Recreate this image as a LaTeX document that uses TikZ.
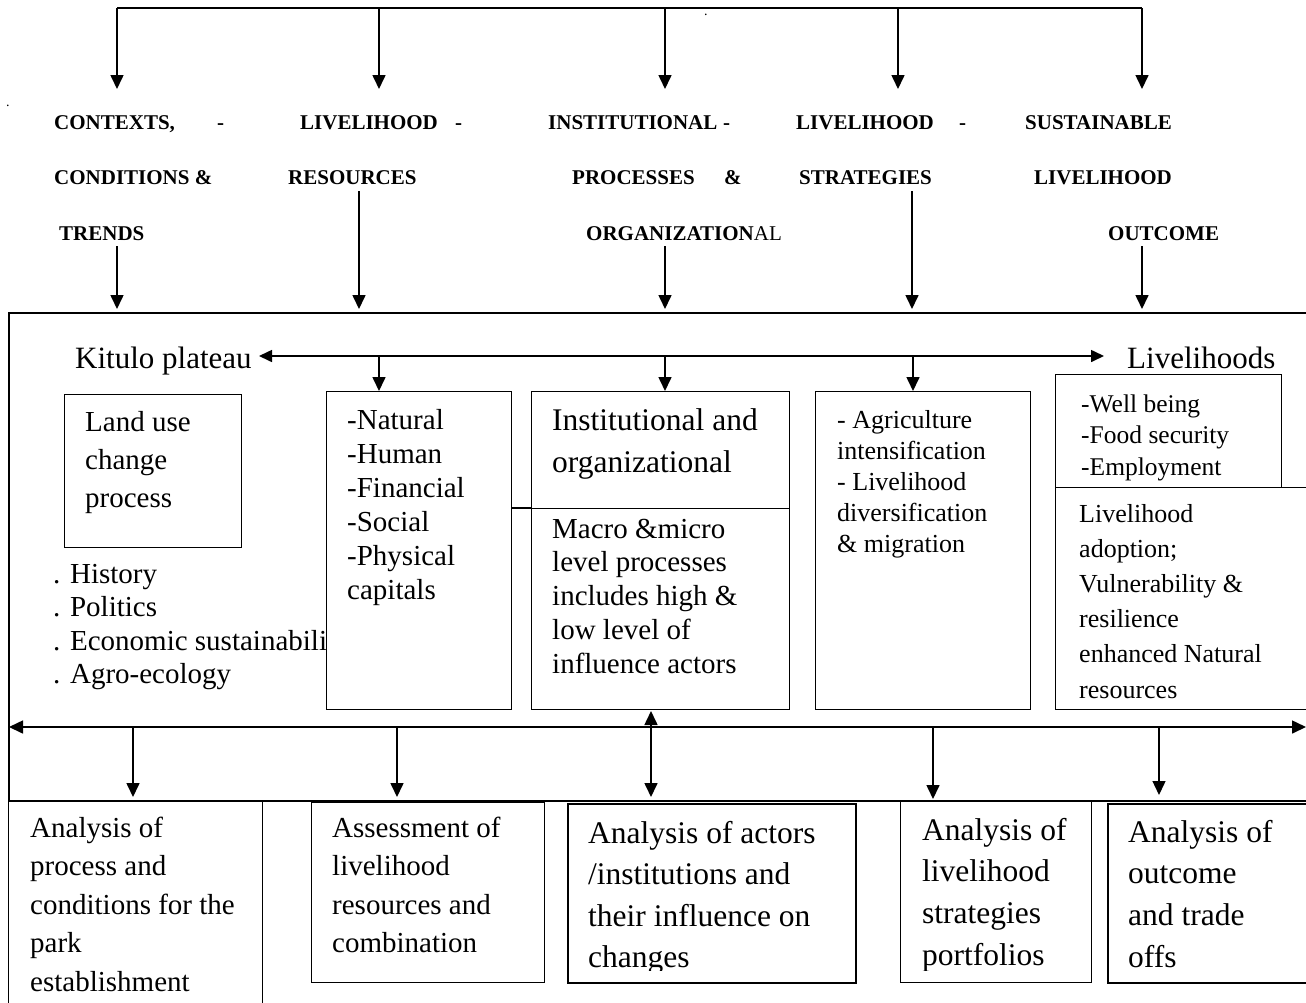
\documentclass[tikz,border=0pt]{standalone}
\usepackage{fontspec}
\setmainfont{Liberation Serif}
\usetikzlibrary{arrows.meta}
\newcommand\ml[1]{\begin{tabular}[t]{@{}l@{}}#1\end{tabular}}
\begin{document}
\begin{tikzpicture}[x=1pt,y=-1pt,
  ln/.style={line width=1.6pt},
  arr/.style={line width=1.6pt,-{Triangle[length=14pt,width=13pt]}},
  darr/.style={line width=1.6pt,{Triangle[length=14pt,width=13pt]}-{Triangle[length=14pt,width=13pt]}},
  bx/.style={draw,line width=1.3pt,inner sep=0pt,anchor=north west},
  hd/.style={font=\fontsize{21}{25}\selectfont\bfseries,anchor=base west,inner sep=0pt},
  txt/.style={anchor=base west,inner sep=0pt}]
\useasboundingbox (0,0) rectangle (1306,1002);
\fill[white] (0,0) rectangle (1306,1002);

% ---------- top distribution bar ----------
\coordinate (ta) at (117,8);  \coordinate (ha) at (117,89);
\coordinate (tb) at (379,8);  \coordinate (hb) at (379,89);
\coordinate (tc) at (665,8);  \coordinate (hc) at (665,89);
\coordinate (td) at (898,8);  \coordinate (hdd) at (898,89);
\coordinate (te) at (1142,8); \coordinate (he) at (1142,89);
\draw[ln] (ta) -- (te);
\draw[arr] (ta) -- (ha);
\draw[arr] (tb) -- (hb);
\draw[arr] (tc) -- (hc);
\draw[arr] (td) -- (hdd);
\draw[arr] (te) -- (he);
\node[txt,font=\fontsize{14}{14}\selectfont] (dot1) at (6,106) {.};
\node[txt,font=\fontsize{14}{14}\selectfont] (dot2) at (704,15) {.};

% ---------- header texts ----------
\node[hd] (h1a) at (54,129) {CONTEXTS,};
\node[hd] (h1b) at (217,129) {-};
\node[hd] (h1c) at (54,184) {CONDITIONS \&};
\node[hd] (h1d) at (59,240) {TRENDS};
\node[hd] (h2a) at (300,129) {LIVELIHOOD};
\node[hd] (h2b) at (455,129) {-};
\node[hd] (h2c) at (288,184) {RESOURCES};
\node[hd] (h3a) at (548,129) {INSTITUTIONAL};
\node[hd] (h3b) at (723,129) {-};
\node[hd] (h3c) at (572,184) {PROCESSES};
\node[hd] (h3d) at (724,184) {\&};
\node[hd] (h3e) at (586,240) {ORGANIZATION{\mdseries AL}};
\node[hd] (h4a) at (796,129) {LIVELIHOOD};
\node[hd] (h4b) at (959,129) {-};
\node[hd] (h4c) at (799,184) {STRATEGIES};
\node[hd] (h5a) at (1025,129) {SUSTAINABLE};
\node[hd] (h5b) at (1034,184) {LIVELIHOOD};
\node[hd] (h5c) at (1108,240) {OUTCOME};

% ---------- main frame ----------
\node[bx,minimum width=1310pt,minimum height=488pt,line width=1.8pt] (main) at (8,312) {};
\coordinate (sa) at (117,246);  \coordinate (ea) at (117,309);
\coordinate (sb) at (359,191);  \coordinate (eb) at (359,309);
\coordinate (sc) at (665,246);  \coordinate (ec) at (665,309);
\coordinate (sd) at (912,191);  \coordinate (ed) at (912,309);
\coordinate (se) at (1142,246); \coordinate (ee) at (1142,309);
\draw[arr] (sa) -- (ea);
\draw[arr] (sb) -- (eb);
\draw[arr] (sc) -- (ec);
\draw[arr] (sd) -- (ed);
\draw[arr] (se) -- (ee);

% ---------- inner boxes ----------
\node[bx,minimum width=177pt,minimum height=153pt] (luc) at (64,394) {};
\node[bx,minimum width=185pt,minimum height=318pt] (b2) at (326,391) {};
\node[bx,minimum width=258pt,minimum height=117pt] (b3t) at (531,391) {};
\node[bx,minimum width=258pt,minimum height=201pt] (b3b) at (531,508) {};
\node[bx,minimum width=215pt,minimum height=318pt] (b4) at (815,391) {};
\node[bx,minimum width=226pt,minimum height=113pt] (b5t) at (1055,374) {};
\node[bx,minimum width=262pt,minimum height=222pt] (b5b) at (1055,487) {};
\draw[line width=1.3pt] (b2.east |- b3b.north) -- (b3b.north west);

% ---------- Kitulo plateau line ----------
\node[txt,font=\fontsize{31}{36}\selectfont] (kit) at (75,368) {Kitulo plateau};
\node[txt,font=\fontsize{31}{36}\selectfont] (liv) at (1127,368) {Livelihoods};
\coordinate (kL) at (259,356);
\coordinate (kR) at (1104,356);
\draw[line width=1.6pt,{Triangle[length=13pt,width=12pt]}-{Triangle[length=13pt,width=12pt]}] (kL) -- (kR);
\coordinate (k2) at (379,356);
\coordinate (k3) at (665,356);
\coordinate (k4) at (913,356);
\draw[arr] (k2) -- (k2 |- b2.north);
\draw[arr] (k3) -- (k3 |- b3t.north);
\draw[arr] (k4) -- (k4 |- b4.north);

% ---------- inner texts ----------
\node[txt,font=\fontsize{29}{38}\selectfont] (luct) at (85,431) {\ml{Land use\\change\\process}};
\begin{scope}
\clip (40,550) rectangle (325.4,700);
\node[txt,font=\fontsize{29}{33.5}\selectfont] (ctx) at (53,583) {\ml{. History\\. Politics\\. Economic sustainabili\\. Agro-ecology}};
\end{scope}
\node[txt,font=\fontsize{29}{34}\selectfont] (b2t) at (347,429) {\ml{-Natural\\-Human\\-Financial\\-Social\\-Physical\\capitals}};
\node[txt,font=\fontsize{31.5}{42}\selectfont] (b3tt) at (552,430) {\ml{Institutional and\\organizational}};
\node[txt,font=\fontsize{29}{33.8}\selectfont] (b3bt) at (552,538) {\ml{Macro \&micro\\level processes\\includes high \&\\low level of\\influence actors}};
\node[txt,font=\fontsize{26}{31}\selectfont] (b4t) at (837,428) {\ml{- Agriculture\\intensification\\- Livelihood\\diversification\\\& migration}};
\node[txt,font=\fontsize{25.5}{31.5}\selectfont] (b5tt) at (1081,412) {\ml{-Well being\\-Food security\\-Employment}};
\node[txt,font=\fontsize{26}{35.2}\selectfont] (b5bt) at (1079,522) {\ml{Livelihood\\adoption;\\Vulnerability \&\\resilience\\enhanced Natural\\resources}};

% ---------- lower distribution line ----------
\coordinate (bL) at (9,727);
\coordinate (bR) at (1306,727);
\draw[darr] (bL) -- (bR);
\coordinate (m1) at (133,727);
\coordinate (m2) at (397,727);
\coordinate (m4) at (933,727);
\coordinate (m5) at (1159,727);
\coordinate (m3) at (651,727);

% ---------- bottom boxes ----------
\node[bx,minimum width=254pt,minimum height=215pt] (bA) at (8,800) {};
\node[bx,minimum width=233pt,minimum height=180pt] (bB) at (311,802) {};
\node[bx,minimum width=288pt,minimum height=179pt,line width=1.6pt] (bC) at (567,803) {};
\node[bx,minimum width=191pt,minimum height=181pt] (bD) at (900,801) {};
\node[bx,minimum width=215pt,minimum height=179pt,line width=1.6pt] (bE) at (1107,803) {};

\draw[arr] (m1) -- (133,797) coordinate (n1);
\draw[arr] (m2) -- (397,797) coordinate (n2);
\draw[arr] (m4) -- (933,799) coordinate (n4);
\draw[line width=1.3pt,-{Triangle[length=14pt,width=13pt]}] (m5) -- (1159,795) coordinate (n5);
\draw[darr] (651,711) coordinate (n3a) -- (651,797) coordinate (n3b);

\node[txt,font=\fontsize{29}{38.5}\selectfont] (bAt) at (30,837) {\ml{Analysis of\\process and\\conditions for the\\park\\establishment}};
\node[txt,font=\fontsize{29}{38.5}\selectfont] (bBt) at (332,837) {\ml{Assessment of\\livelihood\\resources and\\combination}};
\begin{scope}
\clip (560,805) rectangle (1306,970);
\node[txt,font=\fontsize{31.5}{41.5}\selectfont] (bCt) at (588,843) {\ml{Analysis of actors\\/institutions and\\their influence on\\changes}};
\node[txt,font=\fontsize{31.5}{41.7}\selectfont] (bDt) at (922,840) {\ml{Analysis of\\livelihood\\strategies\\portfolios}};
\node[txt,font=\fontsize{31.5}{41.7}\selectfont] (bEt) at (1128,842) {\ml{Analysis of\\outcome\\and trade\\offs}};
\end{scope}
\end{tikzpicture}
\end{document}
